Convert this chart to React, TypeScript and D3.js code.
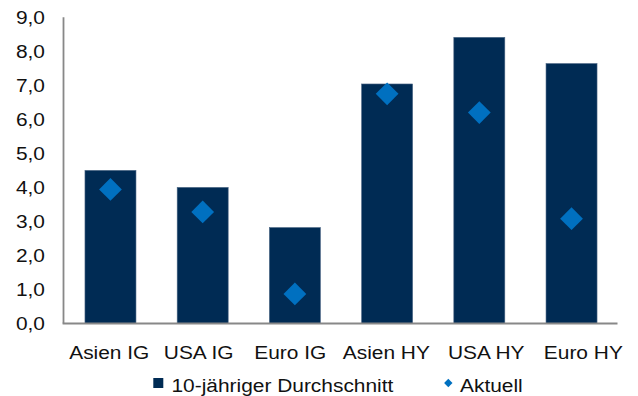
import React from "react";
import * as d3 from "d3";

const categories = ["Asien IG", "USA IG", "Euro IG", "Asien HY", "USA HY", "Euro HY"];
const avg10y = [4.5, 4.0, 2.82, 7.04, 8.41, 7.64];
const current = [3.94, 3.28, 0.87, 6.75, 6.2, 3.08];
const yTicks = [0, 1, 2, 3, 4, 5, 6, 7, 8, 9];
const seriesNames = ["10-jähriger Durchschnitt", "Aktuell"];

const W = 638;
const H = 396;
const left = 64.5;
const right = 617.5;
const top = 17.3;
const bottom = 323.5;
const FONT = "'Liberation Sans', Arial, sans-serif";
const FS = 19;
const SX = 1.1;
const BAR = "#002B54";
const DIA = "#0070C0";
// horizontal nudges of the category labels, as laid out in the original
const labelNudge = [-1.2, -4, -4.6, -0.8, 6.9, 11.8];

function T({ x, y, anchor, children }: { x: number; y: number; anchor: string; children: React.ReactNode }) {
  return (
    <g transform={`translate(${x},${y}) scale(${SX},1)`}>
      <text x={0} y={0} textAnchor={anchor} fontFamily={FONT} fontSize={FS} fill="#111">
        {children}
      </text>
    </g>
  );
}

export default function App() {
  const x = d3.scaleBand<string>().domain(categories).range([left, right]).paddingInner(0.447).paddingOuter(0.222);
  const y = d3.scaleLinear().domain([0, 9]).range([bottom, top]);
  const diamond = d3.symbol().type(d3.symbolDiamond2).size(330)();
  const legendDiamond = d3.symbol().type(d3.symbolDiamond2).size(45)();

  return (
    <svg width={W} height={H} style={{ position: "absolute", left: 0, top: 0, background: "#fff" }}>
      {categories.map((c, i) => (
        <rect
          key={c}
          x={x(c)!}
          y={y(avg10y[i])}
          width={x.bandwidth()}
          height={bottom - y(avg10y[i])}
          fill={BAR}
          stroke="#4a6584"
          strokeWidth={0.6}
        />
      ))}
      {categories.map((c, i) => (
        <path key={c} d={diamond!} transform={`translate(${x(c)! + x.bandwidth() / 2},${y(current[i])})`} fill={DIA} />
      ))}
      <line x1={left - 1} x2={left - 1} y1={top} y2={bottom} stroke="#888" strokeWidth={1.8} />
      <line x1={left - 1.9} x2={right} y1={bottom} y2={bottom} stroke="#888" strokeWidth={1.8} />
      {yTicks.map((t) => (
        <T key={t} x={45} y={y(t) + 6.6} anchor="end">
          {d3.format(".1f")(t).replace(".", ",")}
        </T>
      ))}
      {categories.map((c, i) => (
        <T key={c} x={x(c)! + x.bandwidth() / 2 + labelNudge[i]} y={358.5} anchor="middle">
          {c}
        </T>
      ))}
      <rect x={153.3} y={378} width={10} height={10} fill={BAR} />
      <T x={171.5} y={391.5} anchor="start">{seriesNames[0]}</T>
      <path d={legendDiamond!} transform="translate(448.3,383)" fill={DIA} />
      <T x={460} y={391.5} anchor="start">{seriesNames[1]}</T>
    </svg>
  );
}
